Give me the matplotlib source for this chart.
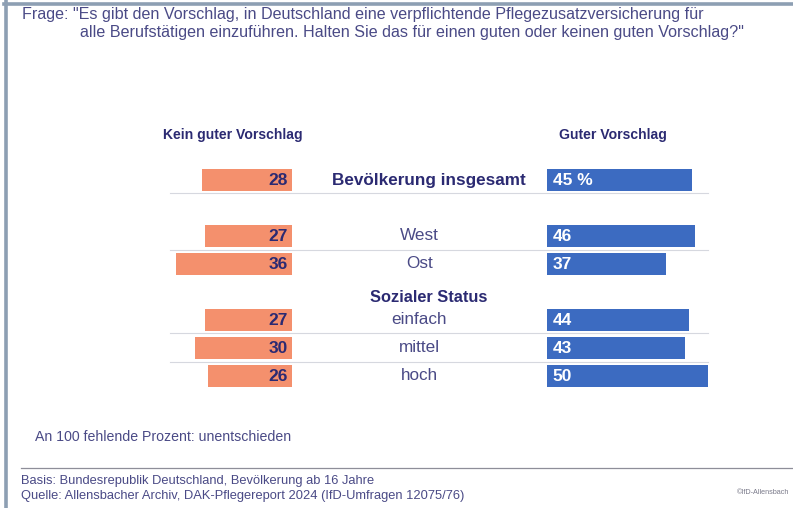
import matplotlib
matplotlib.use('Agg')
import matplotlib.pyplot as plt

# data
labels = ['Bevölkerung insgesamt', 'West', 'Ost', 'einfach', 'mittel', 'hoch']
kein_gut = [28, 27, 36, 27, 30, 26]
gut = [45, 46, 37, 44, 43, 50]
gut_text = ['45 %', '46', '37', '44', '43', '50']

frage_1 = 'Frage: "Es gibt den Vorschlag, in Deutschland eine verpflichtende Pflegezusatzversicherung für'
frage_2 = 'alle Berufstätigen einzuführen. Halten Sie das für einen guten oder keinen guten Vorschlag?"'
hinweis = 'An 100 fehlende Prozent: unentschieden'
basis = 'Basis: Bundesrepublik Deutschland, Bevölkerung ab 16 Jahre'
quelle = 'Quelle: Allensbacher Archiv, DAK-Pflegereport 2024 (IfD-Umfragen 12075/76)'

# layout (pixels of the 793x508 picture)
W, H = 793, 508
row_pos = [0, 2, 3, 5, 6, 7]
X0 = 292.0      # right edge of orange bars
S = 3.22        # px per percent
Y0 = 180.0      # centre of first row
R = 28.0        # px per row slot
GAP = (547 - X0) / S
MID = GAP / 2

orange = '#f4906d'
blue = '#3c6bc1'
navy = '#2b2a72'
textcol = '#4a4a86'
frame = '#8d9fb3'

plt.rcParams['font.family'] = ['Liberation Sans', 'DejaVu Sans']

fig = plt.figure(figsize=(W / 100, H / 100), dpi=100)
fig.patch.set_facecolor('white')

ax = fig.add_axes([0, 0, 1, 1])
ax.set_xlim(-X0 / S, (W - X0) / S)
ax.set_ylim((H - Y0) / R, -Y0 / R)
ax.axis('off')


def fx(px):
    return px / W


def fy(py):
    return 1 - py / H


# frame
fig.add_artist(plt.Line2D([fx(5.5), fx(5.5)], [fy(0), fy(508)], color=frame, lw=2.6))
fig.add_artist(plt.Line2D([fx(4), fx(793)], [fy(4), fy(4)], color=frame, lw=2.6))

# thin separator lines
for p in [0.46, 2.5, 5.48, 6.5]:
    ax.plot([(170 - X0) / S, (708 - X0) / S], [p, p], color='#d6d8df', lw=0.8, zorder=1)

ax.barh(row_pos, [-v for v in kein_gut], left=0, height=22 / R, color=orange, zorder=2)
ax.barh(row_pos, gut, left=GAP, height=22 / R, color=blue, zorder=2)

for i, p in enumerate(row_pos):
    ax.text(-1.2, p + 0.02, str(kein_gut[i]), ha='right', va='center', color=navy,
            fontsize=12.5, fontweight='bold', zorder=3)
    ax.text(GAP + 1.8, p + 0.02, gut_text[i], ha='left', va='center', color='white',
            fontsize=12.5, fontweight='bold', zorder=3)
    if i == 0:
        ax.text(MID + 2.8, p, labels[i], ha='center', va='center', color=navy,
                fontsize=12.3, fontweight='bold', zorder=3)
    else:
        ax.text(MID, p, labels[i], ha='center', va='center', color=textcol,
                fontsize=12.3, zorder=3)

ax.text(MID + 3, 4.2, 'Sozialer Status', ha='center', va='center', color=navy,
        fontsize=11.8, fontweight='bold')

# column heads
fig.text(fx(233), fy(135), 'Kein guter Vorschlag', ha='center', va='center', color=navy,
         fontsize=10.1, fontweight='bold')
fig.text(fx(613), fy(135), 'Guter Vorschlag', ha='center', va='center', color=navy,
         fontsize=10.1, fontweight='bold')

# question
fig.text(fx(22), fy(14), frage_1, ha='left', va='center', color=textcol, fontsize=11.6)
fig.text(fx(80), fy(33), frage_2, ha='left', va='center', color=textcol, fontsize=11.6)

# footer
fig.text(fx(35), fy(437), hinweis, ha='left', va='center', color=textcol, fontsize=10.2)
fig.add_artist(plt.Line2D([fx(21), fx(793)], [fy(468), fy(468)], color='#8e8e99', lw=0.9))
fig.text(fx(21), fy(481), basis, ha='left', va='center', color=textcol, fontsize=9.3)
fig.text(fx(21), fy(496), quelle, ha='left', va='center', color=textcol, fontsize=9.3)
fig.text(fx(789), fy(493), '©IfD-Allensbach', ha='right', va='center', color='#7a7a8a',
         fontsize=5.2)

fig.savefig('out.png', dpi=100, facecolor='white')
